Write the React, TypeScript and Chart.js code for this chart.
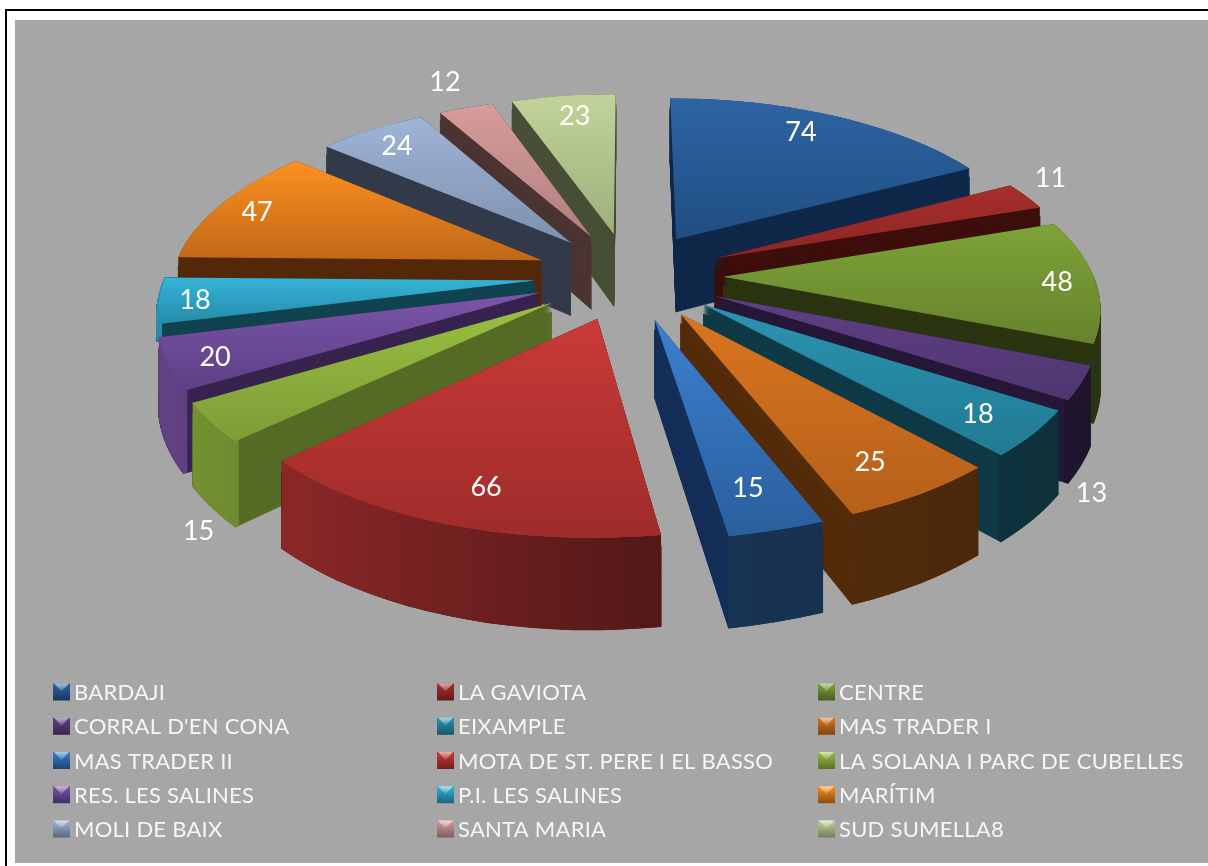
import React, { useEffect, useRef } from "react";
import { Chart, registerables } from "chart.js";

Chart.register(...registerables);

const categories = [
  "BARDAJI", "LA GAVIOTA", "CENTRE", "CORRAL D'EN CONA", "EIXAMPLE",
  "MAS TRADER I", "MAS TRADER II", "MOTA DE ST. PERE I EL BASSO",
  "LA SOLANA I PARC DE CUBELLES", "RES. LES SALINES", "P.I. LES SALINES",
  "MARÍTIM", "MOLI DE BAIX", "SANTA MARIA", "SUD SUMELLA8",
];
const values = [74, 11, 48, 13, 18, 25, 15, 66, 15, 20, 18, 47, 24, 12, 23];

const topLight = ["#2e64a4", "#a82e2c", "#7ea338", "#5f3f85", "#2a94b2", "#d97520", "#3c80cf", "#c93a38", "#98c040", "#7c55aa", "#35b4d8", "#fd9020", "#9fb5d8", "#d99c9c", "#c2d39a"];
const topDark = ["#1f4e82", "#8a2624", "#66832c", "#4f3670", "#217a92", "#b5601a", "#2a5f9d", "#9e2c2a", "#7e9c38", "#5c3f85", "#258aa8", "#c06818", "#7d90ad", "#ae8080", "#9db07c"];
const wallColors = ["#10294a", "#3e0f0c", "#2c3512", "#271838", "#0f3a46", "#552c0a", "#16305a", "#5a1614", "#566c26", "#37244f", "#114450", "#54290a", "#333b4b", "#4b3432", "#484f36"];
// share of the full extrusion each slice shows (P.I. LES SALINES sits behind its neighbour)
const wallShare = [1, 1, 1, 1, 1, 1, 1, 1, 1, 1, 0.22, 1, 1, 1, 1];

// label placement, in the pie's own polar terms (reach in radii, bearing in degrees)
const labelReach = [1.086, 1.368, 1.127, 1.48, 1.093, 1.081, 1.075, 1.086, 1.53, 1.114, 1.133, 1.113, 1.095, 1.475, 1.09];
const labelBearing = [28.6, 63, 91.9, 136, 131.1, 149.5, 165.7, 197.1, 217.5, 246.6, 262.95, 290.6, 320.8, 336.6, 351.2];

// camera model of the 3D pie
const CX = 629, CY = 275.6, RX = 370, RY = 172, PERSP = 0.15, DEPTH = 75, EXPLODE = 0.255, LABEL_SPREAD = 1.0216;
const project = (u: number, v: number, z: number) => {
  const s = 1 / (1 - PERSP * v);
  return { x: CX + RX * u * s, y: CY + RY * v * s + z * s };
};

const hexRgb = (h: string) => [1, 3, 5].map((i) => parseInt(h.slice(i, i + 2), 16));
const scaleCol = (h: string, k: number) => {
  const [r, g, b] = hexRgb(h);
  return `rgb(${Math.round(r * k)},${Math.round(g * k)},${Math.round(b * k)})`;
};

type Mat = [number, number, number, number, number, number];
const solve = (s: any[], d: any[]): Mat => {
  const [s0, s1, s2] = s, [d0, d1, d2] = d;
  const ax = s1.x - s0.x, ay = s1.y - s0.y, bx = s2.x - s0.x, by = s2.y - s0.y;
  const det = ax * by - ay * bx;
  const a = ((d1.x - d0.x) * by - (d2.x - d0.x) * ay) / det;
  const c = ((d2.x - d0.x) * ax - (d1.x - d0.x) * bx) / det;
  const b = ((d1.y - d0.y) * by - (d2.y - d0.y) * ay) / det;
  const e = ((d2.y - d0.y) * ax - (d1.y - d0.y) * bx) / det;
  return [a, b, c, e, d0.x - a * s0.x - c * s0.y, d0.y - b * s0.x - e * s0.y];
};
const lerpMat = (p: Mat, q: Mat, t: number) => p.map((w, i) => w + (q[i] - w) * t) as Mat;

const WEDGE = Math.PI / 14;
const pieces = (from: number, to: number, phase = 0) => {
  const out: [number, number][] = [];
  if (to <= from) return out;
  const n = Math.max(1, Math.ceil((to - from) / WEDGE));
  const st = (to - from) / n;
  for (let k = 0; k < n; k++) out.push([from + st * k, from + st * (k + 1)]);
  if (phase && n > 1) for (let k = 0; k < n - 1; k++) out.push([from + st * (k + 0.5), from + st * (k + 1.5)]);
  return out;
};

const pie3d = {
  id: "pie3d",
  beforeDatasetsDraw(chart: any) {
    const ctx: CanvasRenderingContext2D = chart.ctx;
    const arcs: any[] = chart.getDatasetMeta(0).data;
    const order = arcs.map((_, i) => i).sort((a, b) => {
      const m = (i: number) => (arcs[i].startAngle + arcs[i].endAngle) / 2;
      return Math.sin(m(a)) - Math.sin(m(b));
    });

    const world = (mid: number, ang: number, r: number) => ({
      u: EXPLODE * Math.cos(mid) + r * Math.cos(ang),
      v: EXPLODE * Math.sin(mid) + r * Math.sin(ang),
    });

    for (const i of order) {
      const el = arcs[i];
      const base = { a0: el.startAngle, a1: el.endAngle, inner: el.innerRadius, circ: el.circumference, options: el.options };
      const mid = (base.a0 + base.a1) / 2;
      const R = el.outerRadius;

      // vertical extent of the top face on screen
      let yMin = Infinity, yMax = -Infinity;
      for (let k = 0; k <= 24; k++) {
        const w = world(mid, base.a0 + ((base.a1 - base.a0) * k) / 24, 1);
        const p = project(w.u, w.v, 0);
        yMin = Math.min(yMin, p.y);
        yMax = Math.max(yMax, p.y);
      }
      const ap = world(mid, mid, 0);
      const apy = project(ap.u, ap.v, 0).y;
      yMin = Math.min(yMin, apy);
      yMax = Math.max(yMax, apy);

      const matsFor = (s0: number, s1: number) => {
        const src = [
          { x: el.x, y: el.y },
          { x: el.x + R * Math.cos(s0), y: el.y + R * Math.sin(s0) },
          { x: el.x + R * Math.cos(s1), y: el.y + R * Math.sin(s1) },
        ];
        const wp = [world(mid, mid, 0), world(mid, s0, 1), world(mid, s1, 1)];
        return {
          top: solve(src, wp.map((w) => project(w.u, w.v, 0))),
          bot: solve(src, wp.map((w) => project(w.u, w.v, DEPTH * wallShare[i]))),
        };
      };
      const setArc = (s0: number, s1: number, inner: number, fill: any, edge = 0) => {
        el.startAngle = s0;
        el.endAngle = s1;
        el.circumference = s1 - s0;
        el.innerRadius = inner;
        el.options = Object.create(base.options, {
          backgroundColor: { value: fill },
          borderColor: { value: fill },
          borderWidth: { value: edge },
        });
      };
      const paint = (m: Mat) => {
        ctx.save();
        ctx.transform(m[0], m[1], m[2], m[3], m[4], m[5]);
        el.draw(ctx);
        ctx.restore();
      };
      // a gradient that depends on one screen axis only, expressed in the arc's coordinates
      const axisGradient = (m: Mat, axis: "x" | "y", from: number, to: number, stops: [number, string][]) => {
        const gx = axis === "y" ? m[1] : m[0];
        const gy = axis === "y" ? m[3] : m[2];
        const off = axis === "y" ? m[5] : m[4];
        const n = gx * gx + gy * gy;
        const g = ctx.createLinearGradient(
          (gx * (from - off)) / n, (gy * (from - off)) / n,
          (gx * (to - off)) / n, (gy * (to - off)) / n,
        );
        stops.forEach(([o, c]) => g.addColorStop(o, c));
        return g;
      };

      // cut walls and underside; the thin edge keeps wedge tips solid but stays off the top rim
      for (const [s0, s1] of pieces(base.a0, base.a1)) {
        const ms = matsFor(s0, s1);
        for (let t = 1; t > 0; t -= 1 / 110) {
          setArc(s0, s1, 0, wallColors[i], t > 0.12 ? 1 : 0);
          paint(lerpMat(ms.top, ms.bot, t));
        }
      }
      // curved rim, only where it faces the viewer
      const rimStops: [number, string][] = [
        [0, scaleCol(topLight[i], 0.78)],
        [0.52, scaleCol(topLight[i], 0.42)],
        [1, scaleCol(topLight[i], 0.32)],
      ];
      const front0 = Math.max(base.a0, 0), front1 = Math.min(base.a1, Math.PI);
      for (const [s0, s1] of pieces(front0, front1)) {
        const ms = matsFor(s0, s1);
        for (let t = 1; t > 0; t -= 1 / 110) {
          const m = lerpMat(ms.top, ms.bot, t);
          setArc(s0, s1, R * 0.988, axisGradient(m, "x", 160, 1100, rimStops));
          paint(m);
        }
      }
      // top face: two staggered passes so that no seam shows through
      for (const [s0, s1] of pieces(base.a0, base.a1, 1)) {
        const ms = matsFor(s0, s1);
        setArc(s0, s1, 0, axisGradient(ms.top, "y", yMin, yMax, [[0, topLight[i]], [1, topDark[i]]]));
        paint(ms.top);
      }
      // faint bevel along the front edge
      for (const [s0, s1] of pieces(front0, front1)) {
        const ms = matsFor(s0, s1);
        setArc(s0, s1, R * 0.997, scaleCol(topDark[i], 1.05));
        paint(ms.top);
      }

      el.startAngle = base.a0;
      el.endAngle = base.a1;
      el.circumference = base.circ;
      el.innerRadius = base.inner;
      el.options = base.options;
    }
    return false;
  },
};

const valueLabels = {
  id: "valueLabels",
  afterDraw(chart: any) {
    const ctx: CanvasRenderingContext2D = chart.ctx;
    ctx.save();
    ctx.fillStyle = "#ffffff";
    ctx.font = "27px Lato";
    ctx.textAlign = "center";
    ctx.textBaseline = "middle";
    values.forEach((val, i) => {
      const b = (labelBearing[i] * Math.PI) / 180;
      const p = project(LABEL_SPREAD * labelReach[i] * Math.sin(b), -labelReach[i] * Math.cos(b), 0);
      ctx.fillText(String(val), p.x, p.y);
    });
    ctx.restore();
  },
};

const legendGrid = {
  id: "legendGrid",
  afterDraw(chart: any) {
    const ctx: CanvasRenderingContext2D = chart.ctx;
    const colX = [53, 437, 818];
    const rowY = [692, 726.3, 760.5, 794.7, 829];
    ctx.save();
    ctx.font = "22px Lato";
    ctx.textBaseline = "middle";
    ctx.textAlign = "left";
    (ctx as any).letterSpacing = "0.25px";
    chart.data.labels.forEach((label: string, i: number) => {
      const x = colX[i % 3], y = rowY[Math.floor(i / 3)];
      const sz = 17, l = x, t = y - sz / 2;
      const g = ctx.createLinearGradient(0, t, 0, t + sz);
      g.addColorStop(0, scaleCol(topLight[i], 1));
      g.addColorStop(1, scaleCol(topDark[i], 0.72));
      ctx.fillStyle = g;
      ctx.fillRect(l, t, sz, sz);
      const hi = ctx.createLinearGradient(0, t, 0, t + 8);
      hi.addColorStop(0, "rgba(255,255,255,0.6)");
      hi.addColorStop(1, "rgba(255,255,255,0.1)");
      ctx.fillStyle = hi;
      ctx.beginPath();
      ctx.moveTo(l + 1, t);
      ctx.lineTo(l + sz - 1, t);
      ctx.lineTo(l + sz / 2, t + 8);
      ctx.closePath();
      ctx.fill();
      ctx.fillStyle = "#f6f6f6";
      ctx.fillText(label, x + 21, y + 1);
    });
    ctx.restore();
  },
};

export default function App() {
  const ref = useRef<HTMLCanvasElement>(null);
  useEffect(() => {
    if (!ref.current) return;
    const chart = new Chart(ref.current, {
      type: "pie",
      data: {
        labels: categories,
        datasets: [{ data: values, backgroundColor: topLight, borderWidth: 0 }],
      },
      options: {
        responsive: false,
        animation: false,
        rotation: 0,
        plugins: { legend: { display: false }, tooltip: { enabled: false } },
      },
      plugins: [pie3d, valueLabels, legendGrid],
    } as any);
    return () => chart.destroy();
  }, []);
  return (
    <div style={{ position: "absolute", left: 0, top: 0, width: 1208, height: 866, background: "#ffffff", overflow: "hidden" }}>
      <div style={{ position: "absolute", left: 5, top: 9, right: -4, bottom: -4, border: "2px solid #000" }} />
      <div style={{ position: "absolute", left: 15, top: 20, width: 1193, height: 843, background: "#a6a6a6" }} />
      <canvas ref={ref} width={1208} height={866} style={{ position: "absolute", left: 0, top: 0, display: "block" }} />
    </div>
  );
}
